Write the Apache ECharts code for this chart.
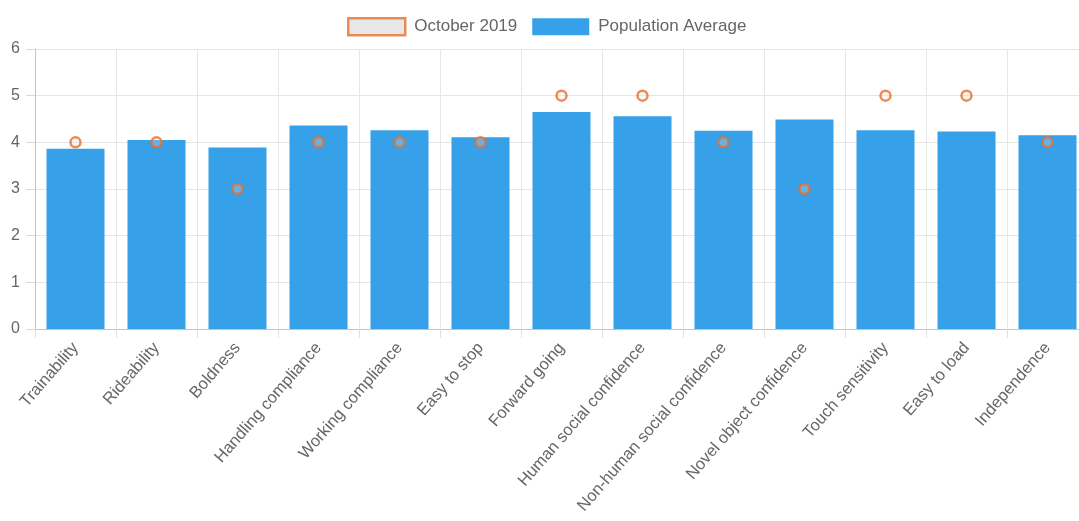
<!DOCTYPE html>
<html>
<head>
<meta charset="utf-8">
<script src="https://cdn.jsdelivr.net/npm/echarts@6/dist/echarts.min.js"></script>
<style>
html,body{margin:0;padding:0;background:#fff;}
#c{width:1079px;height:521px;}
</style>
</head>
<body>
<div id="c"></div>
<script>
const categories = ["Trainability","Rideability","Boldness","Handling compliance","Working compliance","Easy to stop","Forward going","Human social confidence","Non-human social confidence","Novel object confidence","Touch sensitivity","Easy to load","Independence"];
const populationAverage = [3.86,4.05,3.89,4.36,4.26,4.11,4.65,4.56,4.25,4.49,4.26,4.23,4.15];
const october2019 = [4,4,3,4,4,4,5,5,4,3,5,5,4];
const yTicks = [0,1,2,3,4,5,6];

const FONT = '"Liberation Sans", Arial, Helvetica, sans-serif';
const chart = echarts.init(document.getElementById('c'));
chart.setOption({
  animation:false,
  backgroundColor:'#fff',
  legend:{
    top:17, left:347, padding:0,
    itemWidth:57, itemHeight:17, itemGap:15,
    textStyle:{color:'#666', fontSize:17, fontFamily:FONT, padding:[0,0,0,4]},
    data:[
      {name:'October 2019', icon:'rect', itemStyle:{color:'#e2e2e2', borderColor:'#e8702a', borderWidth:2.5}},
      {name:'Population Average', icon:'rect', itemStyle:{color:'#36a0e8'}}
    ]
  },
  grid:{left:35, width:1053, top:49, bottom:192, containLabel:false, outerBoundsMode:'none'},
  xAxis:{
    type:'category', data:categories,
    axisLine:{lineStyle:{color:'#c4c4c4'}},
    axisTick:{show:true, length:9, lineStyle:{color:'#e0e0e0'}},
    splitLine:{show:true, lineStyle:{color:'#e6e6e6'}},
    axisLabel:{rotate:49, interval:0, margin:16, color:'#666', fontSize:16.5, fontFamily:FONT}
  },
  yAxis:{
    type:'value', min:yTicks[0], max:yTicks[yTicks.length-1], interval:1,
    axisLine:{show:true, lineStyle:{color:'#c4c4c4'}},
    axisTick:{show:true, length:9, lineStyle:{color:'#d8d8d8'}},
    splitLine:{lineStyle:{color:'#e6e6e6'}},
    axisLabel:{color:'#666', fontSize:16, margin:15, fontFamily:FONT}
  },
  series:[
    {name:'Population Average', type:'bar', data:populationAverage, barWidth:58,
     itemStyle:{color:'#36a0e8'}, z:2},
    {name:'October 2019', type:'scatter', data:october2019, symbol:'circle', symbolSize:10,
     itemStyle:{color:'rgba(226,226,226,0.35)', borderColor:'#e8702a', borderWidth:2.5}, z:5}
  ]
});
</script>
</body>
</html>
